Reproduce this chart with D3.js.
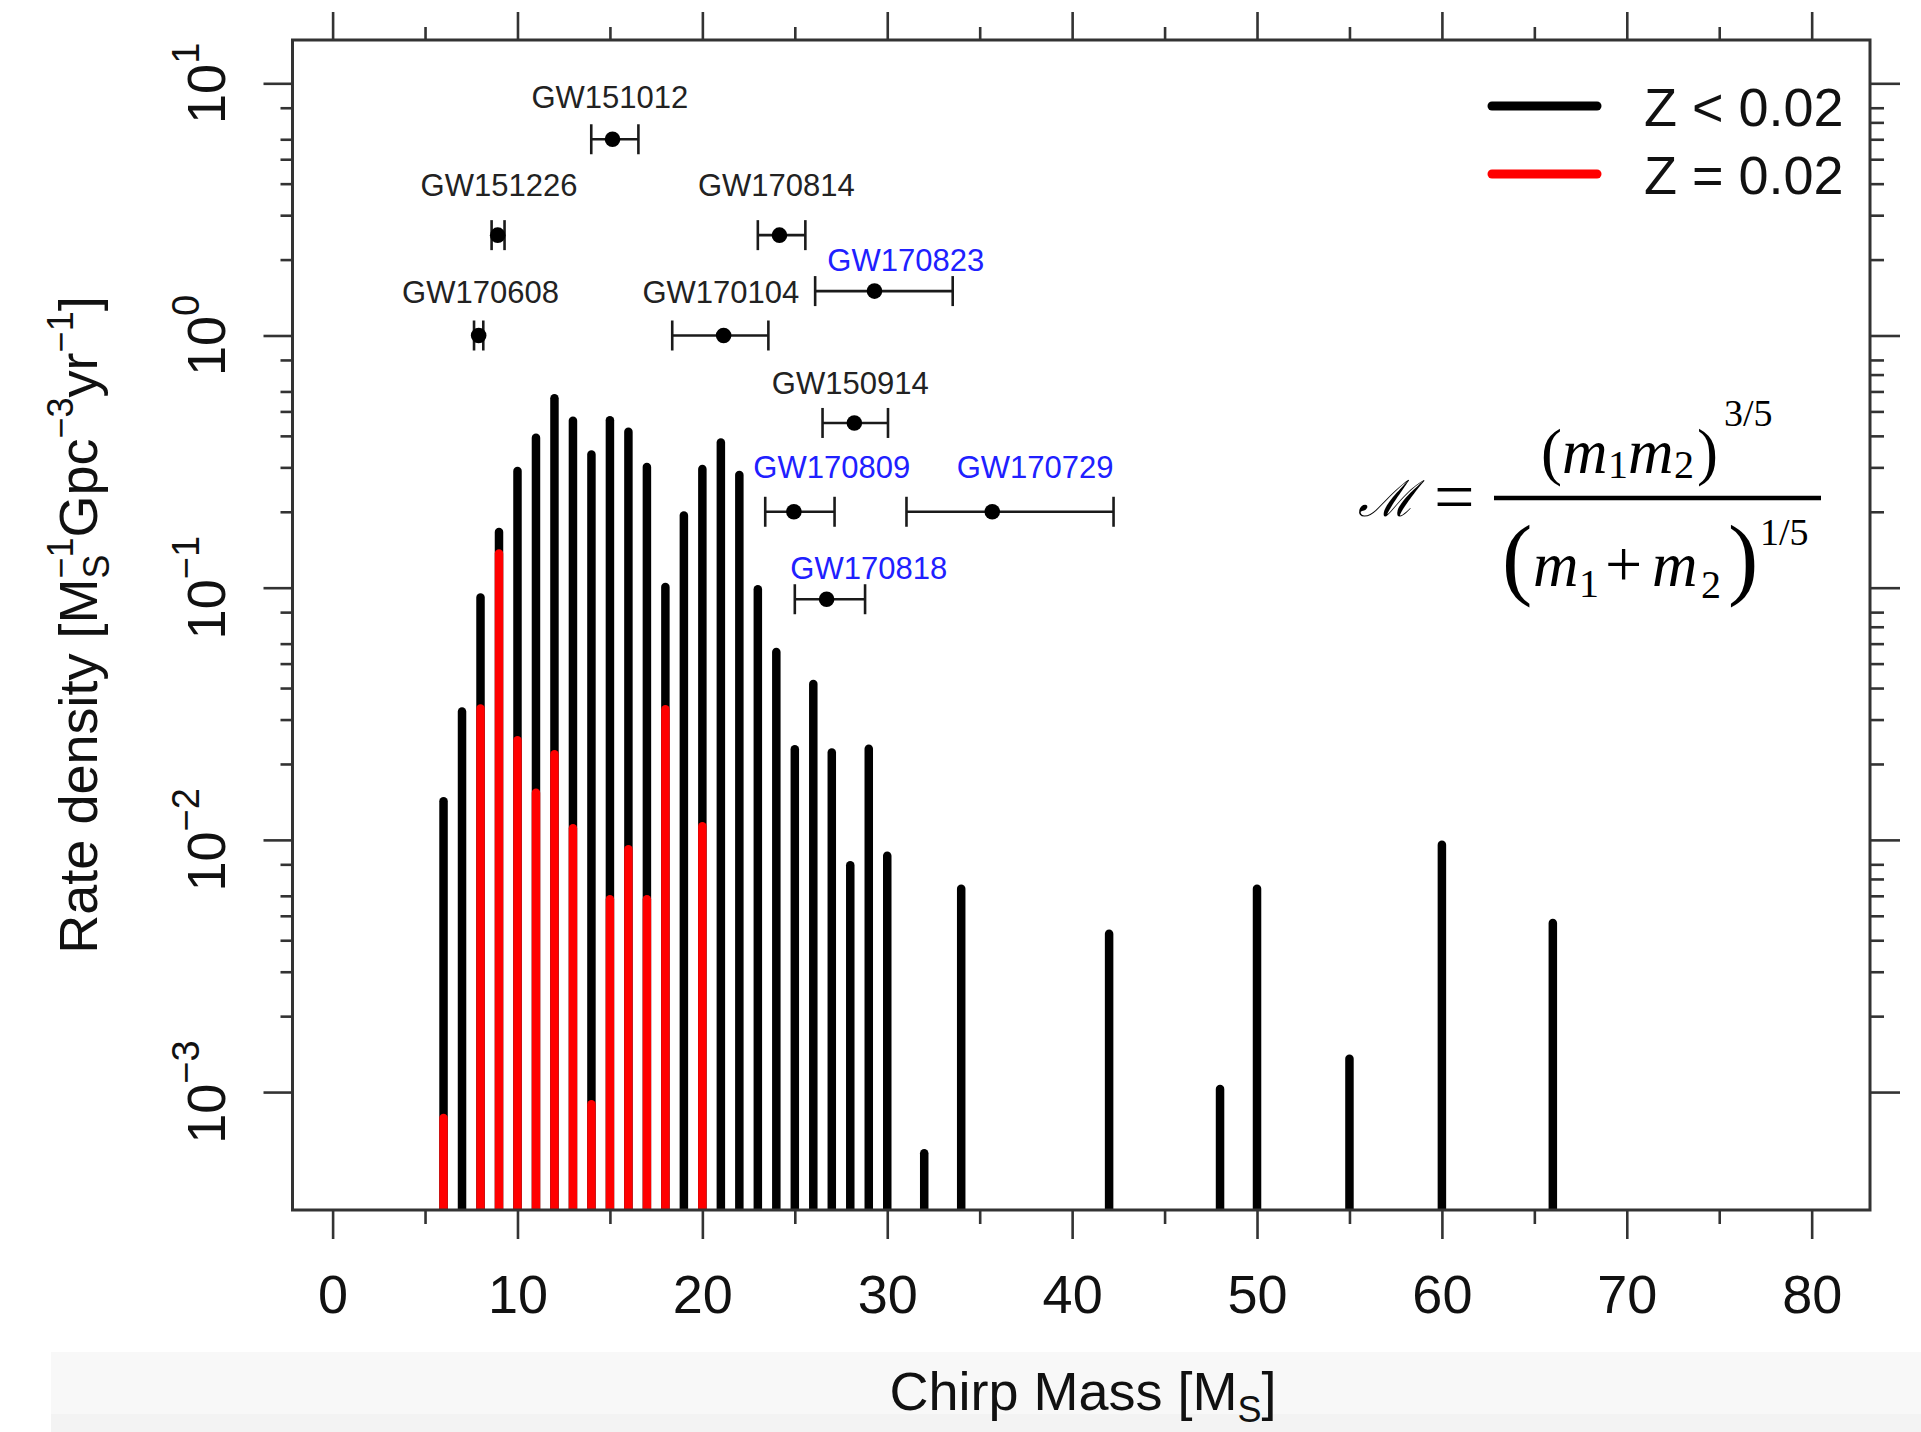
<!DOCTYPE html>
<html><head><meta charset="utf-8">
<script src="https://cdn.jsdelivr.net/npm/d3@7"></script>
<style>
body{margin:0;background:#fff}
svg{display:block}
text{font-family:"Liberation Sans",Arial,Helvetica,sans-serif}
</style>
</head><body>
<svg id="chart" width="1921" height="1432"></svg>
<script>
// ---------------- data ----------------
// Histogram of chirp mass (Z < 0.02, black)
const chirpMass = [6,7,8,9,10,11,12,13,14,15,16,17,18,19,20,21,22,23,24,25,26,27,28,29,30,32,34,42,48,50,55,60,66];
const rateLowZ  = [0.0148,0.0336,0.0951,0.173,0.302,0.409,0.586,0.477,0.351,0.480,0.432,0.313,0.1047,0.201,0.307,0.391,0.291,0.1025,0.0578,0.0238,0.0431,0.0231,0.00824,0.0239,0.0090,0.000594,0.00665,0.00441,0.00107,0.00665,0.00141,0.00995,0.00487];
// Histogram of chirp mass (Z = 0.02, red)
const chirpMassSolar = [6,8,9,10,11,12,13,14,15,16,17,18,20];
const rateSolarZ     = [0.00082,0.0345,0.142,0.0258,0.0160,0.0227,0.01156,0.00093,0.00604,0.00955,0.00604,0.0343,0.01178];

// Observed events
const eventNames   = ["GW151012","GW151226","GW170608","GW170104","GW170814","GW170823","GW150914","GW170809","GW170729","GW170818"];
const eventMass    = [15.14, 8.93, 7.9, 21.15, 24.17, 29.31, 28.22, 24.95, 35.68, 26.72];
const eventMassLo  = [13.99, 8.6, 7.65, 18.37, 23.0, 26.1, 26.5, 23.4, 31.04, 25.0];
const eventMassHi  = [16.54, 9.3, 8.15, 23.57, 25.57, 33.54, 30.04, 27.15, 42.24, 28.8];
const eventRate    = [6.0, 2.5, 1.0, 1.0, 2.5, 1.5, 0.45, 0.2, 0.2, 0.09];
const eventNew     = [false,false,false,false,false,true,false,true,true,true];
const labelMass    = [15, 9, 8, 21, 24, 31, 28, 27, 38, 29];
const labelRate    = [8.85, 3.95, 1.49, 1.49, 3.95, 2.0, 0.646, 0.30, 0.30, 0.12];

// Axis ticks
const xMajorTicks = [0,10,20,30,40,50,60,70,80];
const xMinorTicks = [5,15,25,35,45,55,65,75];
const yDecades = [-3,-2,-1,0,1];
const yMinorLeftMult = [2,3,4,5,6,8];
const yMinorRightMult = [2,3,4,5,6,7,8];

const legendLabels = ["Z < 0.02","Z = 0.02"];
const legendColors = ["#000000","#ff0000"];

// ---------------- layout ----------------
const svg = d3.select("#chart");
const P = {left:292.5,right:1870,top:40,bottom:1210};
const x = d3.scaleLinear().domain([-2.169,83.155]).range([P.left,P.right]);
const y = d3.scaleLog().domain([3.407e-4,14.85]).range([P.bottom,P.top]);
const AX = "#333";

// bottom band
svg.append("rect").attr("x",51).attr("y",1352).attr("width",1870).attr("height",62).attr("fill","#f8f8f8");
svg.append("rect").attr("x",51).attr("y",1414).attr("width",1870).attr("height",18).attr("fill","#f3f3f3");

svg.append("defs").append("clipPath").attr("id","clip")
  .append("rect").attr("x",P.left).attr("y",P.top).attr("width",P.right-P.left).attr("height",P.bottom-P.top);

// bars
const barW = 8.5;
const bars = svg.append("g").attr("clip-path","url(#clip)");
bars.selectAll("line.low").data(chirpMass.map((m,i)=>({m,v:rateLowZ[i]}))).join("line")
  .attr("class","low")
  .attr("x1",d=>x(d.m)).attr("x2",d=>x(d.m))
  .attr("y1",P.bottom+10).attr("y2",d=>y(d.v)+barW/2)
  .attr("stroke","#000").attr("stroke-width",barW).attr("stroke-linecap","round");
bars.selectAll("line.sol").data(chirpMassSolar.map((m,i)=>({m,v:rateSolarZ[i]}))).join("line")
  .attr("class","sol")
  .attr("x1",d=>x(d.m)).attr("x2",d=>x(d.m))
  .attr("y1",P.bottom+10).attr("y2",d=>y(d.v)+barW/2)
  .attr("stroke","#ff0000").attr("stroke-width",barW).attr("stroke-linecap","round");

// axes
function styleAxis(g){
  g.select(".domain").remove();
  g.selectAll(".tick line").attr("stroke",AX).attr("stroke-width",2.6);
}
svg.append("g").attr("transform",`translate(0,${P.bottom})`)
  .call(d3.axisBottom(x).tickValues(xMajorTicks).tickSize(29).tickPadding(36).tickFormat(d3.format("d")))
  .call(styleAxis)
  .call(g=>g.selectAll(".tick text").attr("font-size",54).attr("fill","#111")
     .attr("font-family","Liberation Sans, Arial, sans-serif"));
svg.append("g").attr("transform",`translate(0,${P.bottom})`)
  .call(d3.axisBottom(x).tickValues(xMinorTicks).tickSize(14).tickFormat(""))
  .call(styleAxis);
svg.append("g").attr("transform",`translate(0,${P.top})`)
  .call(d3.axisTop(x).tickValues(xMajorTicks).tickSize(28).tickFormat(""))
  .call(styleAxis);
svg.append("g").attr("transform",`translate(0,${P.top})`)
  .call(d3.axisTop(x).tickValues(xMinorTicks).tickSize(13).tickFormat(""))
  .call(styleAxis);

const yMajor = yDecades.map(k=>Math.pow(10,k));
const minorVals = mults => yDecades.slice(0,-1).flatMap(k=>mults.map(m=>m*Math.pow(10,k)));
svg.append("g").attr("transform",`translate(${P.left},0)`)
  .call(d3.axisLeft(y).tickValues(yMajor).tickSize(29).tickFormat(""))
  .call(styleAxis);
svg.append("g").attr("transform",`translate(${P.left},0)`)
  .call(d3.axisLeft(y).tickValues(minorVals(yMinorLeftMult)).tickSize(12).tickFormat(""))
  .call(styleAxis);
svg.append("g").attr("transform",`translate(${P.right},0)`)
  .call(d3.axisRight(y).tickValues(yMajor).tickSize(30).tickFormat(""))
  .call(styleAxis);
svg.append("g").attr("transform",`translate(${P.right},0)`)
  .call(d3.axisRight(y).tickValues(minorVals(yMinorRightMult)).tickSize(14).tickFormat(""))
  .call(styleAxis);

// y tick labels 10^k rotated
yDecades.forEach(k=>{
  const t = svg.append("text")
    .attr("transform",`translate(225,${y(Math.pow(10,k))}) rotate(-90)`)
    .attr("text-anchor","middle").attr("fill","#111").attr("font-size",54);
  t.append("tspan").text("10");
  t.append("tspan").attr("font-size",38).attr("dy",-26).text(k<0?"\u2212"+(-k):String(k));
});

// box
svg.append("rect").attr("x",P.left).attr("y",P.top).attr("width",P.right-P.left).attr("height",P.bottom-P.top)
  .attr("fill","none").attr("stroke",AX).attr("stroke-width",3);

// axis titles
const xt = svg.append("text").attr("x",1083).attr("y",1410).attr("text-anchor","middle")
  .attr("font-size",54).attr("fill","#111");
xt.append("tspan").text("Chirp Mass [M");
xt.append("tspan").attr("font-size",36).attr("dy",12).text("S");
xt.append("tspan").attr("dy",-12).text("]");

const yt = svg.append("text").attr("transform","translate(97,625) rotate(-90)").attr("text-anchor","middle")
  .attr("font-size",54).attr("fill","#111");
yt.append("tspan").text("Rate density [M");
yt.append("tspan").attr("font-size",36).attr("dy",12).text("S");
yt.append("tspan").attr("font-size",36).attr("dx",-24).attr("dy",-36).text("\u22121");
yt.append("tspan").attr("dy",24).text("Gpc");
yt.append("tspan").attr("font-size",36).attr("dy",-24).text("\u22123");
yt.append("tspan").attr("dy",24).text("yr");
yt.append("tspan").attr("font-size",36).attr("dy",-24).text("\u22121");
yt.append("tspan").attr("dy",24).text("]");

// events
const ev = eventNames.map((n,i)=>({n,m:eventMass[i],lo:eventMassLo[i],hi:eventMassHi[i],r:eventRate[i],nw:eventNew[i],lm:labelMass[i],lr:labelRate[i]}));
const eg = svg.append("g");
const EC = "#1a1a1a";
ev.forEach(d=>{
  const yy = y(d.r);
  eg.append("line").attr("x1",x(d.lo)).attr("x2",x(d.hi)).attr("y1",yy).attr("y2",yy).attr("stroke",EC).attr("stroke-width",2.6);
  [d.lo,d.hi].forEach(v=>eg.append("line").attr("x1",x(v)).attr("x2",x(v)).attr("y1",yy-15).attr("y2",yy+15).attr("stroke",EC).attr("stroke-width",2.6));
  eg.append("circle").attr("cx",x(d.m)).attr("cy",yy).attr("r",7.8).attr("fill","#000");
  eg.append("text").attr("x",x(d.lm)).attr("y",y(d.lr)+11).attr("text-anchor","middle")
    .attr("font-size",31).attr("fill",d.nw?"#2020ff":"#222").text(d.n);
});

// legend
const lg = svg.append("g");
legendLabels.forEach((l,i)=>{
  const cy = 106 + i*68;
  lg.append("line").attr("x1",1492).attr("x2",1597).attr("y1",cy).attr("y2",cy)
    .attr("stroke",legendColors[i]).attr("stroke-width",9).attr("stroke-linecap","round");
  lg.append("text").attr("x",1644).attr("y",cy+20).attr("font-size",54).attr("fill","#111").text(l);
});

// formula  M = (m1 m2)^(3/5) / (m1 + m2)^(1/5)
const SERIF = "'Liberation Serif','Times New Roman',serif";
const fg = svg.append("g").attr("fill","#000");
fg.append("text").attr("x",1358).attr("y",516).attr("font-size",50)
  .style("font-family","'DejaVu Serif',serif").attr("font-style","italic").text("\u2133");
fg.append("text").attr("x",1434).attr("y",521).attr("font-size",72).style("font-family",SERIF).text("=");
fg.append("line").attr("x1",1494).attr("x2",1821).attr("y1",498).attr("y2",498).attr("stroke","#000").attr("stroke-width",4.5);
function fline(parts){
  const t = fg.append("text").style("font-family",SERIF);
  parts.forEach(p=>{
    t.append("tspan").attr("x",p[0]).attr("y",p[1]).attr("font-size",p[2])
      .attr("font-style",p[4]?"italic":"normal").text(p[3]);
  });
}
// numerator
fline([[1541,473,63,"("],[1562,473,63,"m",true],[1608,478,40,"1"],[1628,473,63,"m",true],
       [1674,478,40,"2"],[1697,473,63,")"],[1724,426,38,"3/5"]]);
// denominator
fline([[1502,588,91,"("],[1533,586,63,"m",true],[1579,597,40,"1"],[1605,586,66,"+"],
       [1652,586,63,"m",true],[1701,598,40,"2"],[1728,588,91,")"],[1760,545,38,"1/5"]]);
</script>
</body></html>
